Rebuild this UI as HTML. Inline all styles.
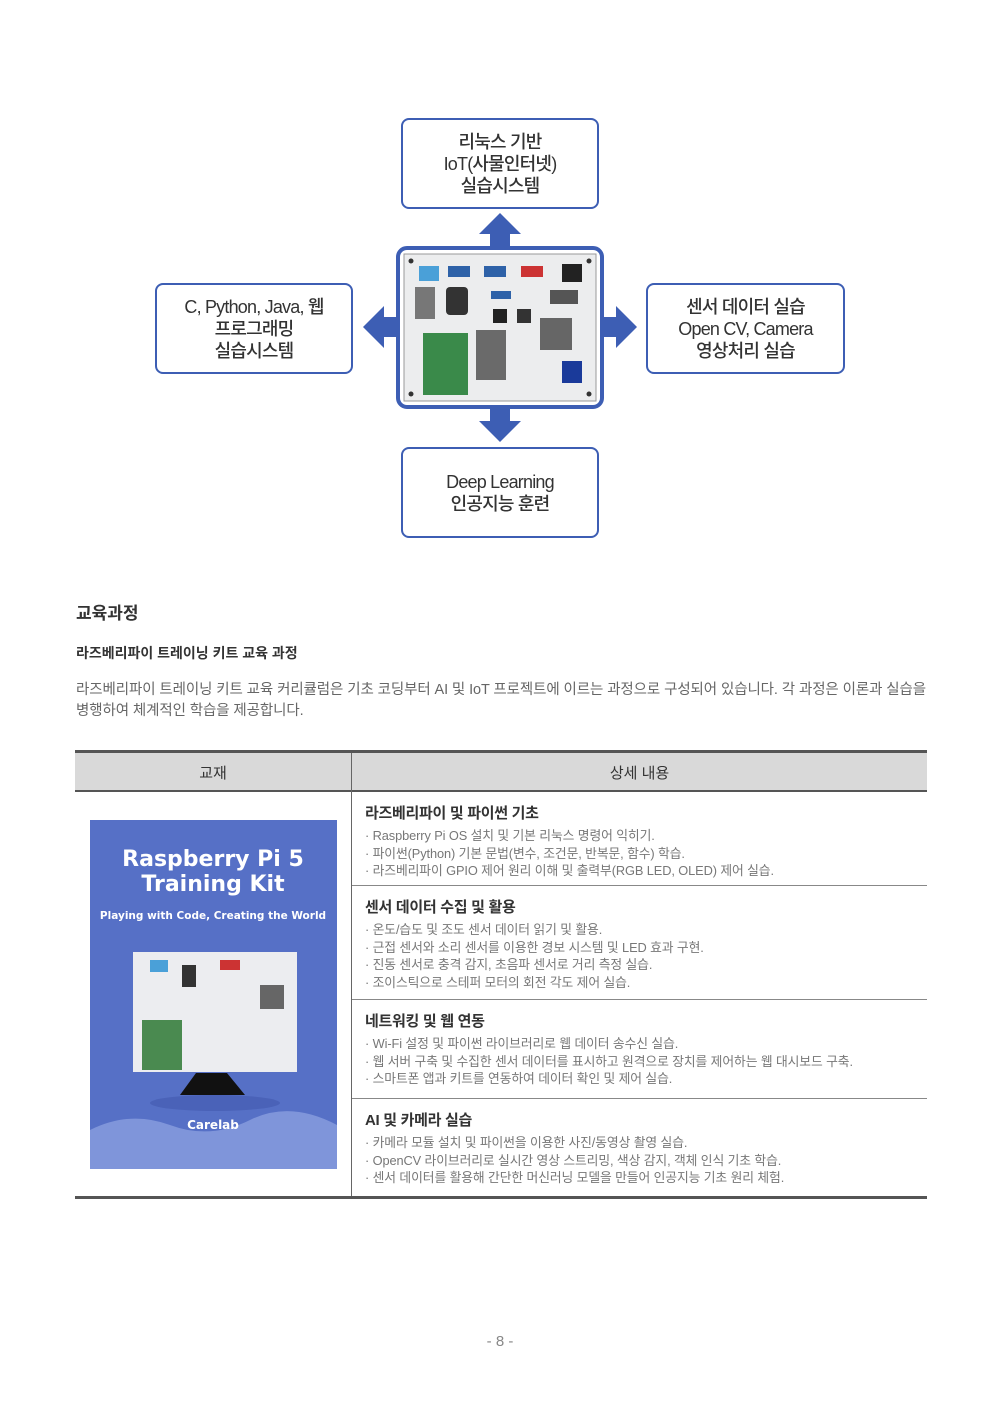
<!DOCTYPE html>
<html><head><meta charset="utf-8"><style>
*{margin:0;padding:0;box-sizing:border-box}
body{width:1000px;height:1414px;background:#fff;position:relative;font-family:"Liberation Sans","Noto Sans CJK KR",sans-serif;color:#333}
.box{position:absolute;border:2px solid #3d5eb4;border-radius:8px;background:#fff;display:flex;align-items:center;justify-content:center;text-align:center;font-size:18px;line-height:22px;color:#333;font-weight:500;letter-spacing:-0.8px}
.a{position:absolute}
.t{position:absolute;white-space:nowrap}
.row{position:absolute;left:352px;width:575px;border-bottom:1px solid #888;padding:10px 0 0 13px}
.row h4{font-size:15px;font-weight:bold;color:#333;margin-bottom:4px;letter-spacing:-0.3px}
.row p{font-size:12.8px;color:#777;line-height:17.5px;letter-spacing:-0.1px}
</style></head><body>
<div class="box" style="left:401px;top:118px;width:198px;height:91px">리눅스 기반<br>IoT(사물인터넷)<br>실습시스템</div>
<div class="box" style="left:155px;top:283px;width:198px;height:91px">C, Python, Java, 웹<br>프로그래밍<br>실습시스템</div>
<div class="box" style="left:646px;top:283px;width:199px;height:91px">센서 데이터 실습<br>Open CV, Camera<br>영상처리 실습</div>
<div class="box" style="left:401px;top:447px;width:198px;height:91px">Deep Learning<br>인공지능 훈련</div>
<svg class="a" style="left:0;top:0" width="1000" height="560">
<g fill="#3d5eb4">
<polygon points="500,213 521,234 510,234 510,248 490,248 490,234 479,234"/>
<polygon points="500,442 521,421 510,421 510,407 490,407 490,421 479,421"/>
<polygon points="363,327 384,306 384,317 398,317 398,337 384,337 384,348"/>
<polygon points="637,327 616,306 616,317 602,317 602,337 616,337 616,348"/>
</g>
<rect x="398" y="248" width="204" height="159" rx="9" fill="#fff" stroke="#3d5eb4" stroke-width="4"/>
<rect x="404" y="254" width="192" height="147" fill="#ecedee" stroke="#999"/>
<g fill="#333"><circle cx="411" cy="261" r="2.5"/><circle cx="589" cy="261" r="2.5"/><circle cx="411" cy="394" r="2.5"/><circle cx="589" cy="394" r="2.5"/></g>
<rect x="419" y="266" width="20" height="15" fill="#4aa0d8"/><rect x="448" y="266" width="22" height="11" fill="#2e62a8"/><rect x="484" y="266" width="22" height="11" fill="#2e62a8"/><rect x="521" y="266" width="22" height="11" fill="#c33"/><rect x="562" y="264" width="20" height="18" fill="#222"/>
<rect x="415" y="287" width="20" height="32" fill="#777"/><rect x="446" y="287" width="22" height="28" fill="#333" rx="4"/><rect x="491" y="291" width="20" height="8" fill="#2e62a8"/><rect x="550" y="290" width="28" height="14" fill="#555"/>
<rect x="493" y="309" width="14" height="14" fill="#222"/><rect x="517" y="309" width="14" height="14" fill="#333"/><rect x="540" y="318" width="32" height="32" fill="#666"/>
<rect x="423" y="333" width="45" height="62" fill="#3a8a4a"/><rect x="476" y="330" width="30" height="50" fill="#6a6a6a"/><rect x="562" y="361" width="20" height="22" fill="#1a3a9a"/>
</svg>
<div class="t" style="left:76px;top:599px;font-size:17px;font-weight:bold;color:#333">교육과정</div>
<div class="t" style="left:76px;top:643px;font-size:14px;font-weight:bold;color:#333">라즈베리파이 트레이닝 키트 교육 과정</div>
<div class="t" style="left:76px;top:680px;font-size:14.5px;color:#666;line-height:21px;letter-spacing:-0.1px">라즈베리파이 트레이닝 키트 교육 커리큘럼은 기초 코딩부터 AI 및 IoT 프로젝트에 이르는 과정으로 구성되어 있습니다. 각 과정은 이론과 실습을<br>병행하여 체계적인 학습을 제공합니다.</div>
<div class="a" style="left:75px;top:750px;width:852px;height:3px;background:#555"></div>
<div class="a" style="left:75px;top:753px;width:852px;height:37px;background:#d9d9d9"></div>
<div class="a" style="left:75px;top:790px;width:852px;height:2px;background:#555"></div>
<div class="a" style="left:351px;top:753px;width:1px;height:444px;background:#666"></div>
<div class="t" style="left:75px;top:762px;width:276px;text-align:center;font-size:15px;color:#333">교재</div>
<div class="t" style="left:352px;top:762px;width:575px;text-align:center;font-size:15px;color:#333">상세 내용</div>
<div class="row" style="top:792px;height:94px"><h4>라즈베리파이 및 파이썬 기초</h4><p>· Raspberry Pi OS 설치 및 기본 리눅스 명령어 익히기.<br>· 파이썬(Python) 기본 문법(변수, 조건문, 반복문, 함수) 학습.<br>· 라즈베리파이 GPIO 제어 원리 이해 및 출력부(RGB LED, OLED) 제어 실습.</p></div>
<div class="row" style="top:886px;height:114px"><h4>센서 데이터 수집 및 활용</h4><p>· 온도/습도 및 조도 센서 데이터 읽기 및 활용.<br>· 근접 센서와 소리 센서를 이용한 경보 시스템 및 LED 효과 구현.<br>· 진동 센서로 충격 감지, 초음파 센서로 거리 측정 실습.<br>· 조이스틱으로 스테퍼 모터의 회전 각도 제어 실습.</p></div>
<div class="row" style="top:1000px;height:99px"><h4>네트워킹 및 웹 연동</h4><p>· Wi-Fi 설정 및 파이썬 라이브러리로 웹 데이터 송수신 실습.<br>· 웹 서버 구축 및 수집한 센서 데이터를 표시하고 원격으로 장치를 제어하는 웹 대시보드 구축.<br>· 스마트폰 앱과 키트를 연동하여 데이터 확인 및 제어 실습.</p></div>
<div class="row" style="top:1099px;height:98px;border-bottom:none"><h4>AI 및 카메라 실습</h4><p>· 카메라 모듈 설치 및 파이썬을 이용한 사진/동영상 촬영 실습.<br>· OpenCV 라이브러리로 실시간 영상 스트리밍, 색상 감지, 객체 인식 기초 학습.<br>· 센서 데이터를 활용해 간단한 머신러닝 모델을 만들어 인공지능 기초 원리 체험.</p></div>
<div class="a" style="left:75px;top:1196px;width:852px;height:3px;background:#555"></div>
<svg class="a" style="left:90px;top:820px" width="247" height="349">
<rect width="247" height="349" fill="#5670c6"/>
<path d="M0 310 Q40 290 80 305 T160 300 T247 305 V349 H0Z" fill="#7f95da"/>
<text x="123" y="46" text-anchor="middle" fill="#fff" font-size="22" font-weight="bold" font-family="DejaVu Sans,sans-serif">Raspberry Pi 5</text>
<text x="123" y="71" text-anchor="middle" fill="#fff" font-size="22" font-weight="bold" font-family="DejaVu Sans,sans-serif">Training Kit</text>
<text x="123" y="99" text-anchor="middle" fill="#fff" font-size="10.5" font-weight="bold" font-family="DejaVu Sans,sans-serif">Playing with Code, Creating the World</text>
<rect x="43" y="132" width="164" height="120" fill="#ecedf0"/>
<rect x="52" y="200" width="40" height="50" fill="#4a8a50"/><rect x="92" y="145" width="14" height="22" fill="#333"/><rect x="170" y="165" width="24" height="24" fill="#666"/><rect x="60" y="140" width="18" height="12" fill="#4aa0d8"/><rect x="130" y="140" width="20" height="10" fill="#c33"/>
<path d="M106 253 L137 253 L155 275 L90 275Z" fill="#111"/>
<ellipse cx="125" cy="283" rx="65" ry="8" fill="#4a62b8"/>
<text x="123" y="309" text-anchor="middle" fill="#fff" font-size="12" font-weight="bold" font-family="DejaVu Sans,sans-serif">Carelab</text>
</svg>
<div class="t" style="left:0;top:1333px;width:1000px;text-align:center;font-size:15px;color:#888">- 8 -</div>
</body></html>
